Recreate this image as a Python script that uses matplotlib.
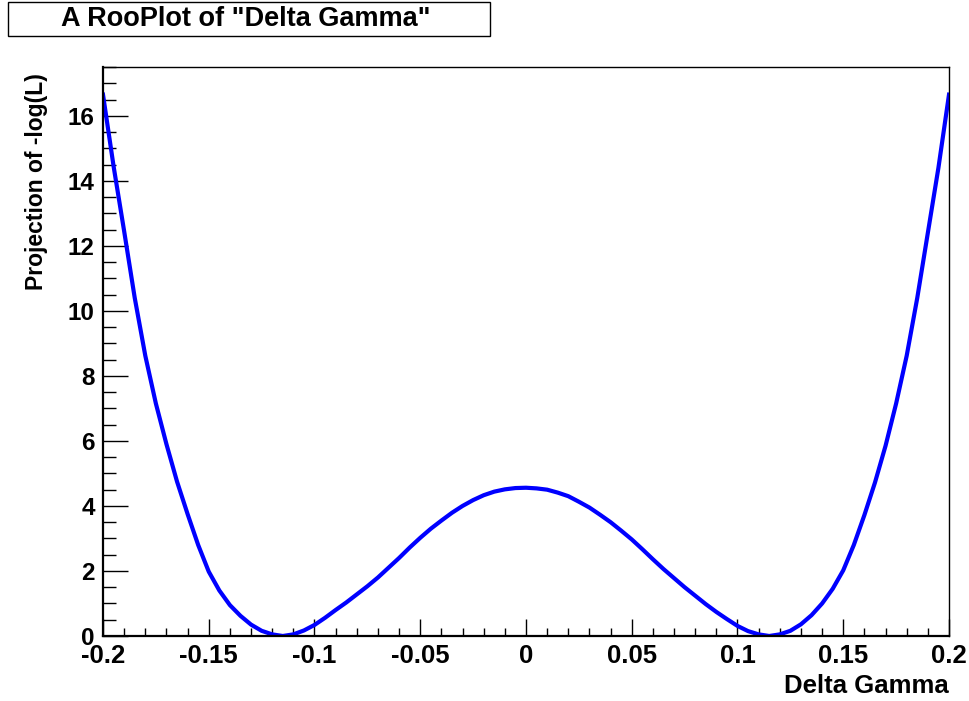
import numpy as np
import matplotlib
matplotlib.use("Agg")
import matplotlib.pyplot as plt
from matplotlib.patches import Rectangle
from matplotlib.ticker import MultipleLocator

# --- Du lieu doc tu hinh ---
delta_gamma = [-0.200, -0.195, -0.190, -0.185, -0.180, -0.175, -0.170, -0.165,
               -0.160, -0.155, -0.150, -0.145, -0.140, -0.135, -0.130, -0.125,
               -0.120, -0.115, -0.110, -0.105, -0.100, -0.095, -0.090, -0.085,
               -0.080, -0.075, -0.070, -0.065, -0.060, -0.055, -0.050, -0.045,
               -0.040, -0.035, -0.030, -0.025, -0.020, -0.015, -0.010, -0.005,
               0.000,
               0.005, 0.010, 0.015, 0.020, 0.025, 0.030, 0.035, 0.040,
               0.045, 0.050, 0.055, 0.060, 0.065, 0.070, 0.075, 0.080,
               0.085, 0.090, 0.095, 0.100, 0.105, 0.110, 0.115, 0.120,
               0.125, 0.130, 0.135, 0.140, 0.145, 0.150, 0.155, 0.160,
               0.165, 0.170, 0.175, 0.180, 0.185, 0.190, 0.195, 0.200]
nll = [16.65, 14.45, 12.45, 10.40, 8.62, 7.15, 5.90, 4.75,
       3.75, 2.80, 1.98, 1.40, 0.95, 0.62, 0.35, 0.16,
       0.05, 0.00, 0.05, 0.17, 0.34, 0.56, 0.80, 1.03,
       1.28, 1.53, 1.80, 2.10, 2.40, 2.72, 3.02, 3.30,
       3.55, 3.79, 4.00, 4.18, 4.33, 4.44, 4.51, 4.55,
       4.56,
       4.54, 4.50, 4.41, 4.30, 4.13, 3.95, 3.73, 3.50,
       3.24, 2.97, 2.67, 2.36, 2.06, 1.78, 1.50, 1.24,
       0.98, 0.74, 0.52, 0.31, 0.15, 0.05, 0.00, 0.05,
       0.16, 0.36, 0.64, 1.00, 1.45, 2.02, 2.80, 3.72,
       4.72, 5.85, 7.15, 8.62, 10.40, 12.40, 14.40, 16.65]

x_ticks = [-0.2, -0.15, -0.1, -0.05, 0, 0.05, 0.1, 0.15, 0.2]
x_ticklabels = ["-0.2", "-0.15", "-0.1", "-0.05", "0", "0.05", "0.1", "0.15", "0.2"]
y_ticks = [0, 2, 4, 6, 8, 10, 12, 14, 16]

plt.rcParams['font.family'] = ['Liberation Sans', 'DejaVu Sans']
plt.rcParams['font.weight'] = 'bold'

W, H = 970, 701
fig = plt.figure(figsize=(W / 100, H / 100), dpi=100)
ax = fig.add_axes([103 / W, 1 - 636 / H, (949 - 103) / W, (636 - 67) / H])

ax.plot(delta_gamma, nll, color=(0, 0, 1), lw=3.0, solid_joinstyle='round')

ax.set_xlim(-0.2, 0.2)
ax.set_ylim(0, 17.5)

ax.set_xticks(x_ticks)
ax.set_xticklabels(x_ticklabels)
ax.set_yticks(y_ticks)
ax.xaxis.set_minor_locator(MultipleLocator(0.01))
ax.yaxis.set_minor_locator(MultipleLocator(0.5))

ax.tick_params(axis='both', which='both', direction='in', top=False, right=False,
               width=1.0, color='black')
ax.tick_params(axis='x', which='major', length=12.5, pad=6, labelsize=18.5)
ax.tick_params(axis='x', which='minor', length=6)
ax.tick_params(axis='y', which='major', length=18, pad=6, labelsize=17.5)
ax.tick_params(axis='y', which='minor', length=9)

for s in ['left', 'bottom']:
    ax.spines[s].set_linewidth(1.6)
for s in ['top', 'right']:
    ax.spines[s].set_linewidth(1.0)

ax.set_xlabel("Delta Gamma", fontsize=18.5, fontweight='bold')
ax.xaxis.set_label_coords(1.0, -0.066)
ax.xaxis.label.set_horizontalalignment('right')
ax.xaxis.label.set_verticalalignment('top')
ax.set_ylabel("Projection of -log(L)", fontsize=16.5, fontweight='bold')
ax.yaxis.set_label_coords(-0.079, 0.99)
ax.yaxis.label.set_horizontalalignment('right')
ax.yaxis.label.set_verticalalignment('center')

# --- Khung tieu de ---
fig.patches.append(Rectangle((8 / W, 1 - 36 / H), 482 / W, 34 / H,
                             transform=fig.transFigure, facecolor='white',
                             edgecolor='black', linewidth=1.0))
fig.text(246 / W, 1 - 19.5 / H, 'A RooPlot of "Delta Gamma"', fontsize=19.5,
         fontweight='bold', ha='center', va='center')

fig.savefig("out.png", dpi=100)
